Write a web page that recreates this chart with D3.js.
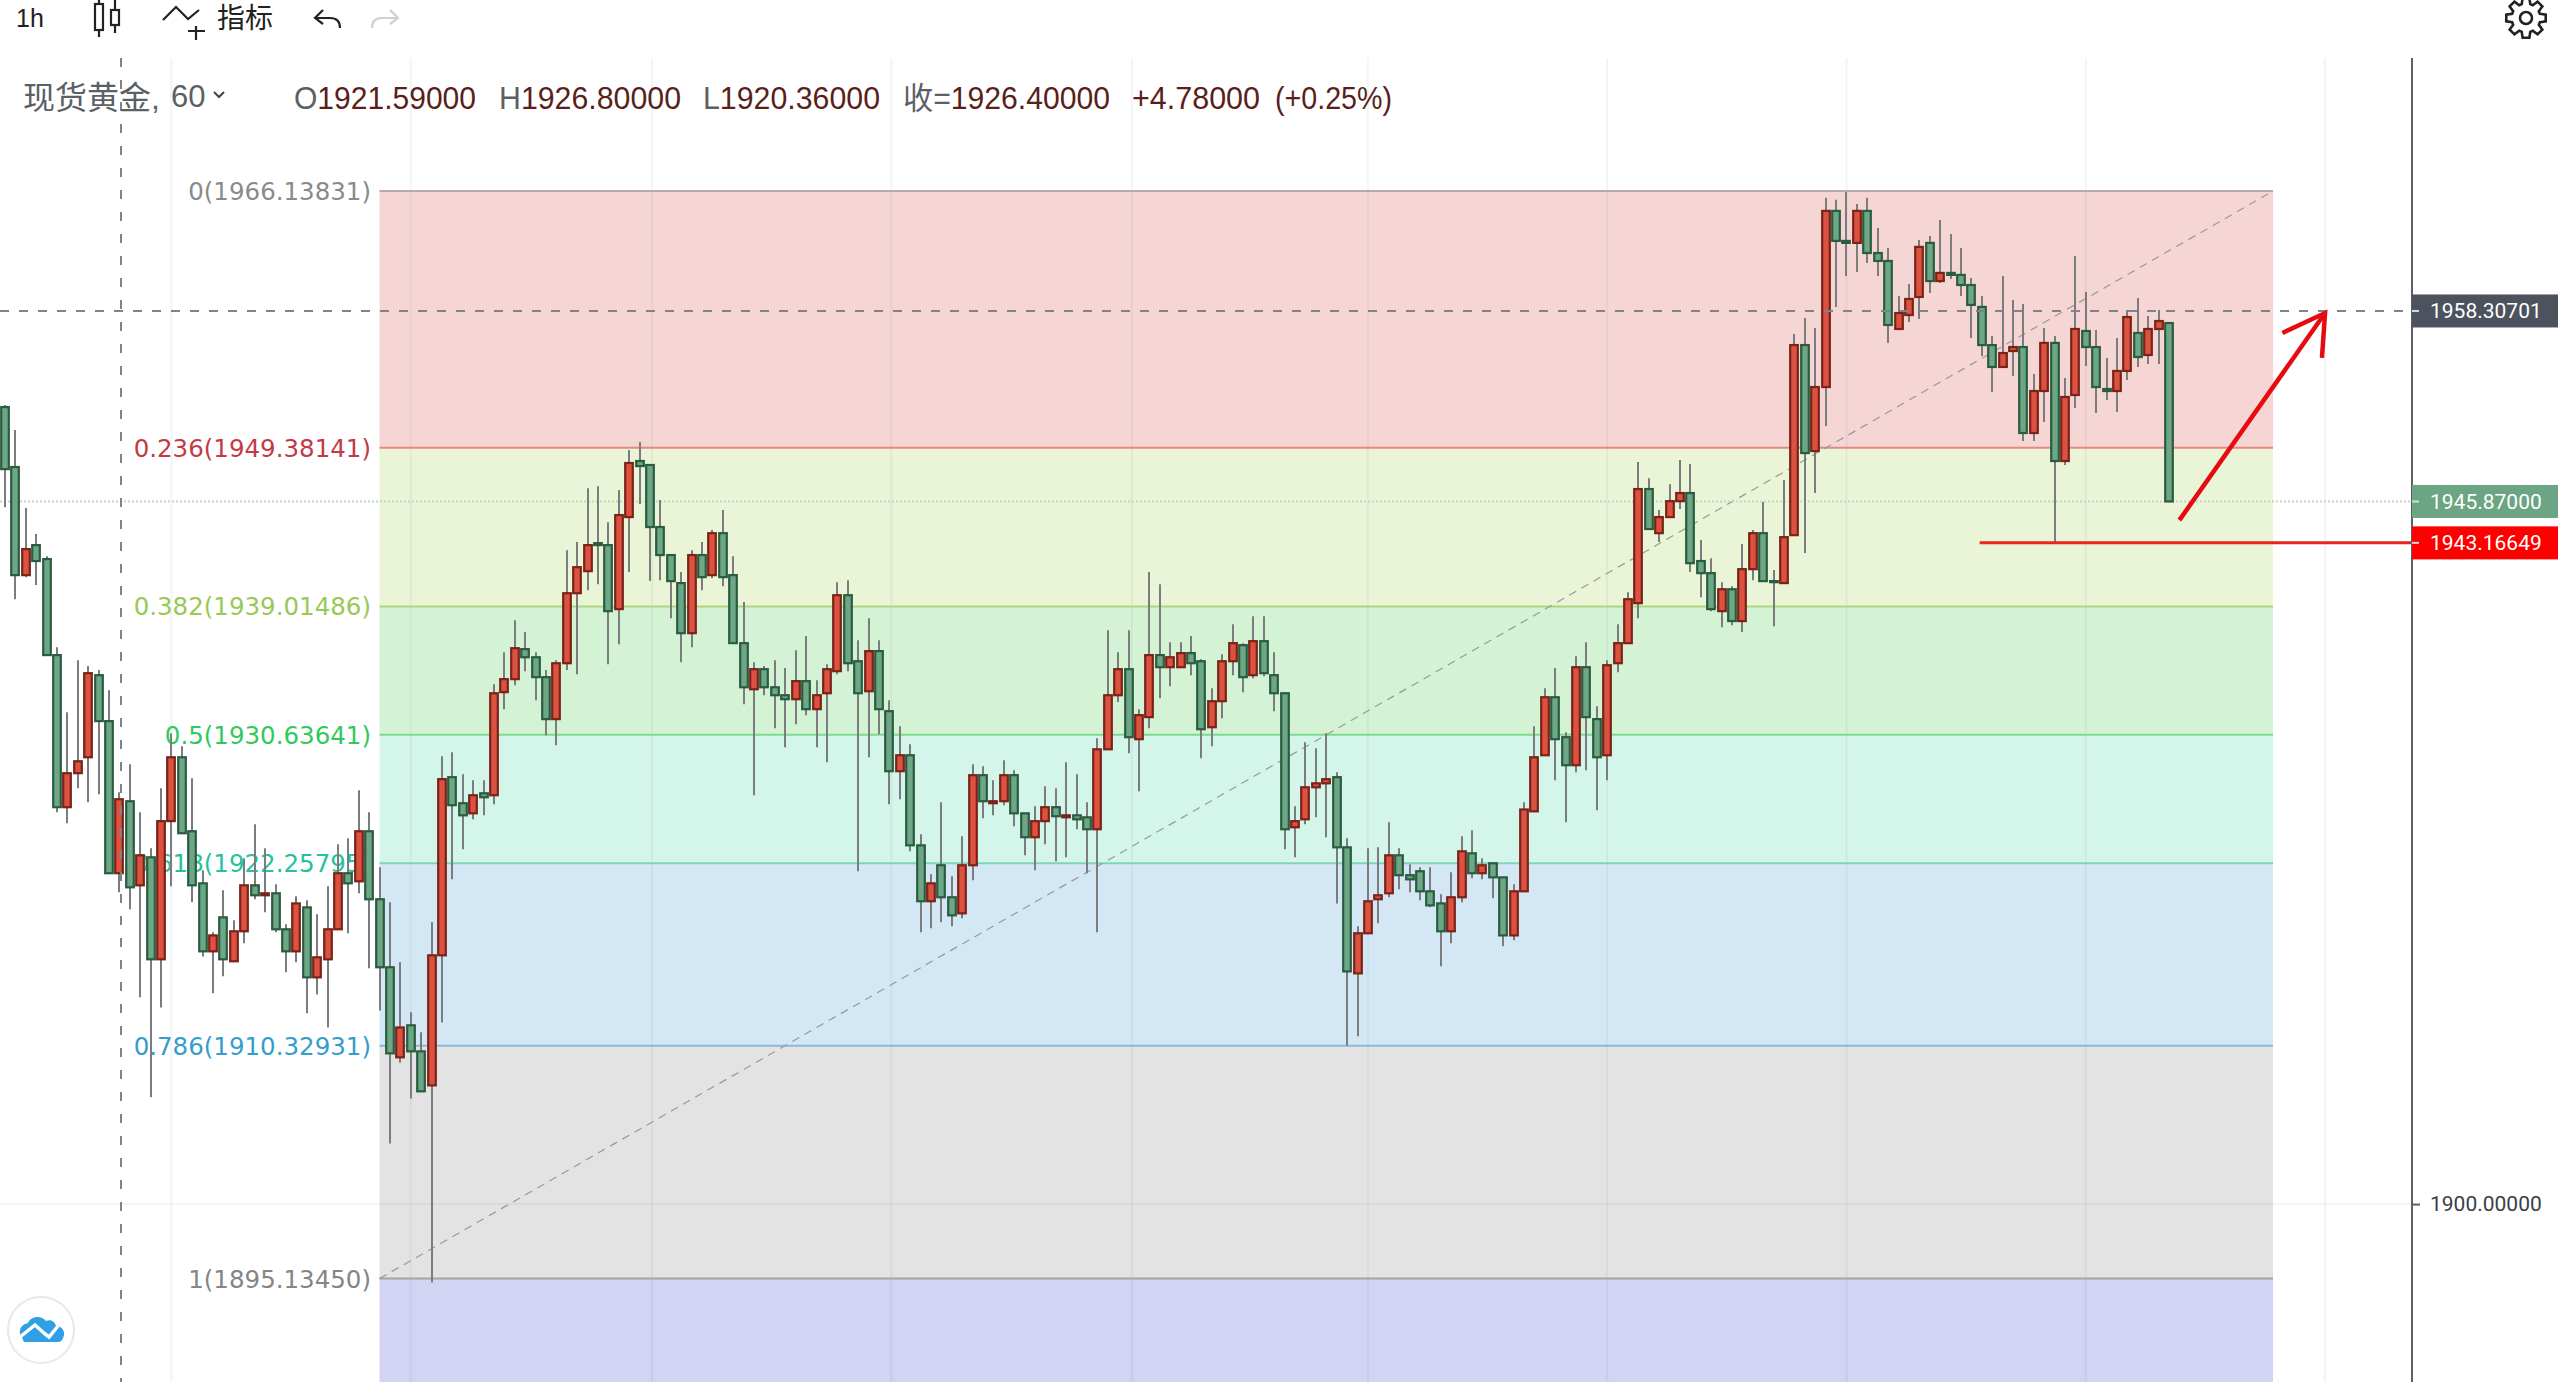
<!DOCTYPE html>
<html>
<head>
<meta charset="utf-8">
<title>现货黄金, 60</title>
<script src="https://cdnjs.cloudflare.com/ajax/libs/d3/7.8.5/d3.min.js"></script>
<style>
  html, body { margin: 0; padding: 0; background: #fff; overflow: hidden; }
  svg { display: block; }
</style>
</head>
<body>
<div id="chart"></div>
<script>
// hourly candles, oldest first
var opens = [1952.03,1948.12,1941.06,1943.02,1942.11,1935.84,1925.91,1928.13,1929.17,1934.53,
  1931.53,1921.60,1926.30,1920.81,1922.64,1915.98,1925.00,1929.17,1924.34,1920.94,
  1916.50,1918.72,1915.85,1917.81,1920.81,1920.16,1920.29,1917.94,1916.50,1919.37,
  1914.80,1915.98,1917.94,1921.60,1921.07,1924.34,1919.90,1915.46,1909.58,1911.67,
  1909.97,1907.75,1916.24,1927.87,1926.17,1925.51,1926.82,1926.69,1933.42,1934.27,
  1936.23,1935.70,1934.40,1931.66,1935.31,1939.88,1941.32,1943.15,1943.02,1938.84,
  1944.85,1948.51,1948.25,1944.20,1942.37,1940.54,1937.27,1942.37,1941.06,1943.80,
  1941.06,1936.62,1933.61,1934.92,1933.74,1933.22,1932.96,1934.14,1932.31,1933.35,
  1934.79,1939.75,1935.44,1933.48,1936.10,1932.18,1928.26,1929.30,1923.42,1919.77,
  1922.12,1920.03,1918.98,1922.12,1928.00,1926.17,1926.30,1928.00,1925.51,1923.95,
  1925.00,1925.91,1925.25,1925.38,1925.25,1924.47,1929.69,1933.22,1934.92,1930.35,
  1931.79,1935.84,1935.05,1935.05,1935.97,1935.44,1931.13,1932.83,1935.44,1936.49,
  1934.53,1936.75,1934.53,1933.35,1924.60,1925.12,1927.21,1927.47,1927.87,1923.29,
  1915.06,1917.68,1919.90,1920.29,1922.77,1921.47,1921.73,1920.42,1919.63,1917.81,
  1920.03,1922.90,1921.60,1922.25,1921.33,1917.54,1920.42,1925.64,1929.30,1933.09,
  1930.48,1928.65,1935.05,1931.66,1929.30,1935.31,1936.62,1939.23,1946.68,1943.80,
  1944.85,1945.89,1946.42,1941.98,1941.19,1938.71,1940.14,1938.06,1941.45,1943.80,
  1940.67,1940.54,1943.67,1956.08,1949.16,1953.34,1964.84,1962.88,1962.75,1964.84,
  1962.09,1961.57,1957.13,1958.04,1959.22,1962.75,1960.26,1960.79,1960.66,1960.00,
  1958.57,1956.08,1954.65,1955.69,1955.95,1950.34,1953.08,1956.22,1948.51,1952.82,
  1957.00,1955.95,1953.21,1953.08,1954.39,1956.87,1955.43,1957.13,1957.52];

var highs = [1952.16,1950.53,1945.44,1943.74,1942.30,1936.36,1932.11,1935.51,1935.12,1934.86,
  1933.55,1926.89,1928.72,1925.58,1923.23,1927.15,1930.74,1929.89,1927.80,1921.79,
  1917.74,1920.49,1918.53,1922.57,1924.80,1923.23,1920.88,1918.27,1920.09,1919.83,
  1918.92,1920.75,1923.49,1923.88,1927.02,1925.58,1921.99,1919.70,1915.78,1912.52,
  1911.21,1918.40,1929.24,1929.50,1928.06,1927.67,1927.67,1933.94,1936.03,1938.12,
  1937.34,1936.03,1934.86,1935.51,1942.69,1943.22,1946.74,1946.87,1944.52,1946.61,
  1949.23,1949.75,1948.25,1945.96,1942.37,1941.26,1942.69,1943.22,1944.00,1945.31,
  1942.30,1939.30,1935.38,1935.12,1935.51,1934.99,1936.16,1937.08,1934.20,1935.25,
  1940.60,1940.73,1936.81,1938.25,1936.81,1932.90,1931.20,1930.02,1924.14,1921.53,
  1926.23,1921.40,1924.01,1928.72,1928.58,1927.67,1928.98,1928.32,1925.51,1925.97,
  1927.28,1927.15,1928.85,1928.06,1926.23,1930.41,1937.47,1936.03,1937.47,1932.31,
  1941.26,1940.47,1936.68,1936.68,1937.08,1935.57,1933.68,1935.90,1937.86,1936.62,
  1938.38,1938.38,1936.03,1933.35,1925.97,1930.15,1929.76,1930.74,1928.19,1923.88,
  1918.13,1923.23,1923.29,1924.93,1923.23,1922.18,1921.99,1921.99,1920.22,1921.66,
  1924.01,1924.40,1922.57,1922.25,1921.33,1920.88,1926.23,1931.20,1933.68,1934.99,
  1930.80,1935.77,1936.68,1932.50,1935.51,1937.86,1939.95,1948.44,1947.39,1945.31,
  1947.00,1948.57,1948.31,1943.35,1942.17,1940.60,1940.34,1943.09,1944.00,1945.83,
  1941.39,1947.27,1956.80,1957.85,1957.19,1965.69,1965.56,1966.08,1965.29,1965.69,
  1963.73,1962.42,1959.29,1960.07,1962.94,1963.20,1964.25,1963.33,1962.42,1960.46,
  1959.29,1956.67,1960.59,1959.02,1958.76,1954.19,1957.19,1956.67,1953.93,1961.90,
  1959.55,1957.06,1955.24,1956.54,1958.37,1959.15,1957.98,1958.37,1957.52];

var lows = [1945.50,1939.49,1940.93,1940.41,1935.84,1925.58,1924.86,1927.15,1926.23,1926.75,
  1921.60,1920.36,1919.24,1913.50,1906.97,1912.84,1920.75,1924.21,1919.70,1916.17,
  1913.76,1914.87,1915.85,1917.02,1919.90,1919.05,1917.74,1915.13,1915.78,1912.45,
  1913.69,1911.53,1917.94,1917.68,1920.29,1915.39,1912.64,1903.96,1909.25,1906.90,
  1907.36,1894.88,1911.86,1921.20,1923.16,1925.12,1925.38,1926.10,1932.31,1933.87,
  1934.79,1932.90,1930.61,1929.96,1934.86,1934.59,1940.08,1940.47,1935.25,1936.55,
  1941.26,1945.70,1940.67,1940.73,1938.25,1935.38,1936.36,1940.08,1940.86,1940.34,
  1936.62,1932.63,1926.69,1933.22,1931.07,1929.83,1931.33,1931.92,1929.83,1928.85,
  1934.59,1934.79,1921.73,1929.17,1930.67,1926.10,1926.43,1923.03,1917.74,1918.00,
  1918.40,1918.13,1918.66,1921.14,1925.19,1925.38,1926.04,1924.67,1922.77,1921.79,
  1923.49,1922.38,1922.64,1924.47,1921.60,1917.74,1929.69,1932.77,1929.43,1926.95,
  1931.07,1933.03,1933.81,1935.05,1934.53,1929.11,1929.89,1931.72,1934.53,1933.42,
  1934.33,1934.46,1932.18,1923.16,1922.64,1924.80,1925.25,1923.95,1919.63,1910.36,
  1910.95,1917.68,1918.33,1920.03,1920.55,1920.36,1919.83,1919.37,1915.52,1917.02,
  1919.70,1921.27,1921.20,1919.96,1916.83,1917.22,1920.42,1925.64,1929.30,1927.67,
  1924.93,1928.19,1928.32,1925.71,1927.67,1934.72,1936.62,1938.25,1944.07,1943.22,
  1944.85,1945.37,1941.26,1939.62,1938.71,1937.66,1937.79,1937.34,1940.73,1940.67,
  1937.73,1940.54,1943.67,1942.50,1946.42,1950.79,1958.57,1960.59,1960.85,1961.44,
  1960.59,1956.22,1957.13,1957.59,1957.78,1959.48,1960.13,1960.40,1959.29,1956.54,
  1955.37,1953.01,1954.65,1954.06,1949.81,1949.81,1951.05,1943.15,1948.25,1951.97,
  1954.71,1951.64,1952.49,1951.71,1953.80,1954.65,1954.84,1954.84,1945.87];

var closes = [1947.98,1941.06,1942.76,1941.98,1935.84,1925.91,1928.13,1928.91,1934.66,1931.53,
  1921.60,1926.43,1920.68,1922.77,1915.98,1925.00,1929.17,1924.21,1920.81,1916.50,
  1917.54,1915.98,1917.81,1920.81,1920.16,1920.29,1917.94,1916.50,1919.63,1914.80,
  1916.11,1917.94,1921.60,1920.94,1924.34,1919.90,1915.46,1909.84,1911.53,1909.97,
  1907.36,1916.24,1927.74,1926.04,1925.38,1926.69,1926.56,1933.35,1934.27,1936.29,
  1935.70,1934.40,1931.66,1935.31,1939.88,1941.58,1943.02,1943.02,1938.71,1944.98,
  1948.38,1948.18,1944.20,1942.37,1940.67,1937.27,1942.37,1940.93,1943.80,1940.93,
  1936.62,1933.74,1934.92,1933.74,1933.22,1932.96,1934.14,1932.31,1933.22,1934.92,
  1939.75,1935.31,1933.35,1936.10,1932.31,1928.26,1929.30,1923.42,1919.77,1920.94,
  1920.03,1918.85,1922.12,1928.00,1926.30,1926.30,1928.00,1925.51,1923.95,1925.00,
  1925.91,1925.32,1925.38,1925.12,1924.47,1929.69,1933.22,1934.92,1930.48,1931.92,
  1935.84,1935.05,1935.70,1935.97,1935.31,1931.00,1932.83,1935.44,1936.62,1934.40,
  1936.75,1934.66,1933.35,1924.47,1925.00,1927.21,1927.47,1927.74,1923.29,1915.19,
  1917.68,1919.77,1920.16,1922.77,1921.47,1921.20,1920.42,1919.50,1917.81,1920.03,
  1923.03,1921.60,1922.12,1921.33,1917.54,1920.42,1925.76,1929.17,1933.09,1930.35,
  1928.65,1935.05,1931.79,1929.17,1935.18,1936.62,1939.49,1946.68,1944.07,1944.85,
  1945.89,1946.42,1941.84,1941.19,1938.84,1940.14,1938.06,1941.45,1943.80,1940.67,
  1940.60,1943.54,1956.08,1949.03,1953.34,1964.84,1962.88,1962.75,1964.84,1962.09,
  1961.57,1957.39,1958.17,1959.09,1962.49,1960.26,1960.79,1960.66,1960.00,1958.70,
  1956.08,1954.65,1955.56,1955.95,1950.34,1953.08,1956.22,1948.51,1952.69,1957.13,
  1955.95,1953.34,1953.08,1954.39,1957.91,1955.30,1957.13,1957.65,1945.87];

// fibonacci retracement levels
var fibRatios = [0, 0.236, 0.382, 0.5, 0.618, 0.786, 1];
var fibPrices = [1966.13831, 1949.38141, 1939.01486, 1930.63641, 1922.25795, 1910.32931, 1895.13450];
var fibLabels = ["0(1966.13831)", "0.236(1949.38141)", "0.382(1939.01486)", "0.5(1930.63641)",
  "0.618(1922.25795)", "0.786(1910.32931)", "1(1895.13450)"];
var fibLineColors = ["#b7a9a9", "#e28a80", "#aed67c", "#7edb8e", "#7fd2bd", "#8ab8dc", "#a3a3a3"];
var fibTextColors = ["#8a8a8a", "#c33a46", "#97c956", "#2fca5c", "#26c19d", "#359ccb", "#858585"];
var fibFills = ["#f6d5d5", "#eaf4d6", "#d4f3d5", "#d4f5e9", "#d3e8f4", "#e3e3e3", "#d3d3f3"];
var fibStart = 36, fibEnd = 218;   // candle indexes the tool was stretched over

var gridIndexes = [16, 39, 62.2, 85.2, 108.3, 131, 154, 177, 200, 223];
var priceTicks = [1900];
var crossPrice = 1958.30701, crossIndex = 11.15;
var lastPrice = 1945.87;
var supportPrice = 1943.16649, supportFrom = 189.8;
// hand drawn arrow: [candle index, price]
var arrowShaft = [[209, 1944.65], [223, 1958.17]];
var arrowHead = [[218.9, 1956.87], [223, 1958.17], [222.7, 1955.24]];

var legendParts = [
  {x: 294, label: "O", value: "1921.59000", w: 182},
  {x: 499, label: "H", value: "1926.80000", w: 182},
  {x: 703, label: "L", value: "1920.36000", w: 177},
  {x: 903, label: "收=", value: "1926.40000", w: 207},
  {x: 1132, label: "", value: "+4.78000", w: 128},
  {x: 1275, label: "", value: "(+0.25%)", w: 117}
];

var width = 2558, height = 1382, chartTop = 58, axisX = 2412;

var svg = d3.select("#chart").append("svg")
    .attr("width", width)
    .attr("height", height)
    .attr("font-family", "'Liberation Sans', 'Noto Sans CJK SC', sans-serif");

svg.append("defs").append("clipPath").attr("id", "plot")
  .append("rect").attr("x", 0).attr("y", chartTop).attr("width", axisX).attr("height", height - chartTop);

var x = d3.scaleLinear().domain([0, 208]).range([5, 2169]);
var y = d3.scaleLinear().domain([fibPrices[6], fibPrices[0]]).range([1278.6, 191]);

var candles = opens.map(function(d, i){
  return {i: i, open: d, high: highs[i], low: lows[i], close: closes[i]};
});

// fib bands
var fibLeft = x(fibStart), fibRight = x(fibEnd);
var bands = fibPrices.map(function(p, i){
  var bottom = i < fibPrices.length - 1 ? y(fibPrices[i + 1]) : height;
  return {top: y(p), bottom: bottom, fill: fibFills[i]};
});

svg.append("g").selectAll("rect").data(bands).enter().append("rect")
    .attr("x", fibLeft)
    .attr("y", function(d){ return d.top; })
    .attr("width", fibRight - fibLeft)
    .attr("height", function(d){ return d.bottom - d.top; })
    .attr("fill", function(d){ return d.fill; });

// grid
var grid = svg.append("g").attr("stroke", "#5a6a80").attr("stroke-opacity", 0.07).attr("stroke-width", 2);
gridIndexes.forEach(function(d){
  grid.append("line").attr("x1", x(d)).attr("x2", x(d)).attr("y1", chartTop).attr("y2", height);
});
priceTicks.forEach(function(d){
  grid.append("line").attr("x1", 0).attr("x2", axisX).attr("y1", y(d)).attr("y2", y(d));
});

// fib lines and labels
svg.append("g").selectAll("line").data(fibPrices).enter().append("line")
    .attr("x1", fibLeft).attr("x2", fibRight)
    .attr("y1", function(d){ return y(d); })
    .attr("y2", function(d){ return y(d); })
    .attr("stroke", function(d, i){ return fibLineColors[i]; })
    .attr("stroke-width", 2);

svg.append("g").selectAll("text").data(fibPrices).enter().append("text")
    .attr("x", 371)
    .attr("y", function(d){ return y(d) + 9; })
    .attr("text-anchor", "end")
    .attr("font-family", "'DejaVu Sans', sans-serif")
    .attr("font-size", 24.5)
    .attr("fill", function(d, i){ return fibTextColors[i]; })
    .text(function(d, i){ return fibLabels[i]; });

// trend line of the fib tool
svg.append("line")
    .attr("x1", fibLeft).attr("y1", y(fibPrices[6]))
    .attr("x2", fibRight).attr("y2", y(fibPrices[0]))
    .attr("stroke", "#999").attr("stroke-width", 1.2).attr("stroke-dasharray", "8 6");

// last price dotted line
svg.append("line")
    .attr("x1", 0).attr("x2", axisX)
    .attr("y1", y(lastPrice)).attr("y2", y(lastPrice))
    .attr("stroke", "#c2d6cc").attr("stroke-width", 2).attr("stroke-dasharray", "2 2");

// candles
var chart = svg.append("g").attr("clip-path", "url(#plot)");

chart.append("g").selectAll("line").data(candles).enter().append("line")
    .attr("x1", function(d){ return Math.round(x(d.i)); })
    .attr("x2", function(d){ return Math.round(x(d.i)); })
    .attr("y1", function(d){ return y(d.high); })
    .attr("y2", function(d){ return y(d.low); })
    .attr("stroke", "#7a7c7e")
    .attr("stroke-width", 2);

chart.append("g").selectAll("rect").data(candles).enter().append("rect")
    .attr("x", function(d){ return Math.round(x(d.i)) - 3.8; })
    .attr("width", 7.6)
    .attr("y", function(d){ return y(Math.max(d.open, d.close)); })
    .attr("height", function(d){ return Math.abs(y(d.open) - y(d.close)); })
    .attr("fill", function(d){ return d.close >= d.open ? "#dc5240" : "#6da786"; })
    .attr("stroke", function(d){ return d.close >= d.open ? "#7a2318" : "#2a5c40"; })
    .attr("stroke-width", 2.2);

// crosshair
svg.append("line")
    .attr("x1", 0).attr("x2", axisX)
    .attr("y1", y(crossPrice)).attr("y2", y(crossPrice))
    .attr("stroke", "#80838c").attr("stroke-width", 2).attr("stroke-dasharray", "9 10");
svg.append("line")
    .attr("x1", x(crossIndex)).attr("x2", x(crossIndex))
    .attr("y1", chartTop).attr("y2", height)
    .attr("stroke", "#80838c").attr("stroke-width", 2).attr("stroke-dasharray", "9 13");

// support line and arrow drawn on the chart
svg.append("line")
    .attr("x1", x(supportFrom)).attr("x2", axisX)
    .attr("y1", y(supportPrice)).attr("y2", y(supportPrice))
    .attr("stroke", "#e8241c").attr("stroke-width", 3);

var arrowLine = d3.line()
    .x(function(d){ return x(d[0]); })
    .y(function(d){ return y(d[1]); });

svg.append("g").attr("fill", "none").attr("stroke", "#e60b10").attr("stroke-width", 4.5)
  .selectAll("path").data([arrowShaft, arrowHead]).enter().append("path")
    .attr("d", arrowLine);

// price axis
svg.append("line")
    .attr("x1", axisX).attr("x2", axisX).attr("y1", chartTop).attr("y2", height)
    .attr("stroke", "#5b5f66").attr("stroke-width", 2);

var yAxis = d3.axisRight(y)
    .tickValues(priceTicks)
    .tickFormat(d3.format(".5f"))
    .tickSize(8)
    .tickPadding(10);

var gyAxis = svg.append("g")
    .attr("transform", "translate(" + axisX + ",0)")
    .call(yAxis);
gyAxis.select(".domain").remove();
gyAxis.selectAll("line").attr("stroke", "#5b5f66").attr("stroke-width", 2);
gyAxis.selectAll("text")
    .attr("font-family", "Roboto, sans-serif")
    .attr("font-size", 21)
    .attr("fill", "#3a3e45");

var priceTags = [
  {price: crossPrice, fill: "#4c525e"},
  {price: lastPrice, fill: "#6ba583"},
  {price: supportPrice, fill: "#ff0000"}
];
var tags = svg.append("g").selectAll("g").data(priceTags).enter().append("g")
    .attr("transform", function(d){ return "translate(" + axisX + "," + y(d.price) + ")"; });
tags.append("rect")
    .attr("x", 0).attr("y", -16.5).attr("width", width - axisX).attr("height", 33)
    .attr("fill", function(d){ return d.fill; });
tags.append("line")
    .attr("x1", 0).attr("x2", 7).attr("stroke", "#d9dbdd").attr("stroke-width", 2);
tags.append("text")
    .attr("x", 18).attr("y", 7.5)
    .attr("font-family", "Roboto, sans-serif")
    .attr("font-size", 21)
    .attr("fill", "#fff")
    .text(function(d){ return d3.format(".5f")(d.price); });

// legend row
var legend = svg.append("g").attr("font-size", 31);
legend.append("text").attr("x", 23).attr("y", 109).attr("font-size", 32).attr("fill", "#5c5f66").text("现货黄金,");
legend.append("text").attr("x", 171).attr("y", 107).attr("fill", "#5c5f66").text("60");
legend.append("path").attr("d", "M214,92 L219,97 L224,92").attr("fill", "none").attr("stroke", "#444").attr("stroke-width", 2);

legend.selectAll("text.part").data(legendParts).enter().append("text")
    .attr("class", "part")
    .attr("x", function(d){ return d.x; })
    .attr("y", 109)
    .attr("textLength", function(d){ return d.w; })
    .attr("lengthAdjust", "spacingAndGlyphs")
    .each(function(d){
      var t = d3.select(this);
      t.append("tspan").attr("fill", "#5c5f66").text(d.label);
      t.append("tspan").attr("fill", "#5a1f1a").text(d.value);
    });

// top toolbar
var bar = svg.append("g");
bar.append("text").attr("x", 16).attr("y", 27).attr("font-size", 25).attr("fill", "#222").text("1h");
bar.append("text").attr("x", 217).attr("y", 28).attr("font-size", 28).attr("fill", "#222").text("指标");

var icons = bar.append("g").attr("fill", "none").attr("stroke", "#222").attr("stroke-width", 2.2);
icons.append("path").attr("d", "M99,0 V37 M115,0 V33");
icons.append("rect").attr("x", 95).attr("y", 4).attr("width", 8).attr("height", 26).attr("fill", "#fff");
icons.append("rect").attr("x", 111).attr("y", 10).attr("width", 8).attr("height", 15).attr("fill", "#fff");
icons.append("path").attr("d", "M163,20 L176,7 L188,19 L199,10 M196,26 V40 M188,31 H205");
icons.append("path").attr("d", "M323,10 L315,18 L323,24 M316,18 H330 Q340,18 340,28");
icons.append("path").attr("d", "M390,10 L398,18 L390,24 M397,18 H382 Q372,18 372,28").attr("stroke", "#cfcfcf");

// settings gear
var gearPts = [];
d3.range(8).forEach(function(k){
  var a = k * Math.PI / 4 - Math.PI / 2;
  [[-0.30, 14.5], [-0.17, 20], [0.17, 20], [0.30, 14.5]].forEach(function(p){
    gearPts.push([p[1] * Math.cos(a + p[0]), p[1] * Math.sin(a + p[0])]);
  });
});
var gear = svg.append("g").attr("transform", "translate(2526,18)")
    .attr("fill", "none").attr("stroke", "#222").attr("stroke-width", 2.6);
gear.append("path").attr("d", d3.line().curve(d3.curveLinearClosed)(gearPts));
gear.append("circle").attr("r", 6);

// logo
var logo = svg.append("g").attr("transform", "translate(41,1330)");
logo.append("circle").attr("r", 33).attr("fill", "#fff").attr("stroke", "#e8e8e8").attr("stroke-width", 2);
logo.append("path")
    .attr("d", "M-19,7 C-24,2 -20,-6 -13,-7 C-10,-14 0,-15 5,-9 C10,-11 14,-8 15,-4 C22,-4 25,3 22,8 C21,11 19,12 17,12 L-16,12 C-18,12 -18,9 -19,7 Z")
    .attr("fill", "#2f9fe6");
logo.append("path")
    .attr("d", "M-21,7 L-6,-5 L4,4 L8,7 L17,-4")
    .attr("fill", "none").attr("stroke", "#fff").attr("stroke-width", 3.5);
</script>
</body>
</html>
